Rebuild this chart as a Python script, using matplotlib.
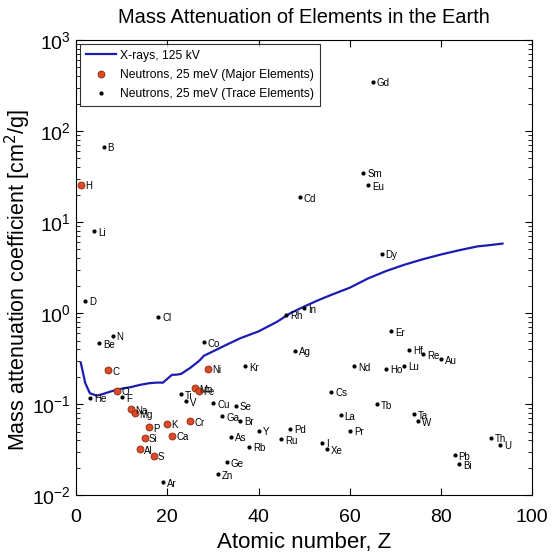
import matplotlib.pyplot as plt
import numpy as np

plt.rcParams['font.family'] = ['Liberation Sans', 'DejaVu Sans']

# X-ray attenuation at 125 kV along the element index
xray_z = [1, 2, 3, 4.5, 6, 8, 10, 12, 14, 16, 18, 19, 20, 21, 22, 23, 25, 27, 28,
          30, 33, 36, 40, 44, 47, 50, 53, 56, 60, 64, 68, 72, 76, 80, 84, 88, 91, 93.5]
xray_mu = [0.287, 0.17, 0.132, 0.124, 0.13, 0.14, 0.148, 0.154, 0.163, 0.17, 0.173,
           0.172, 0.19, 0.21, 0.211, 0.215, 0.25, 0.30, 0.34, 0.38, 0.45, 0.53, 0.63,
           0.8, 1.0, 1.18, 1.38, 1.59, 1.9, 2.4, 2.9, 3.4, 3.9, 4.4, 4.9, 5.4, 5.6, 5.8]

# Thermal neutrons, major elements
major_names = ['H', 'C', 'O', 'Na', 'Mg', 'Al', 'Si', 'P', 'S', 'K', 'Ca', 'Cr', 'Mn', 'Fe', 'Ni']
major_z = [1, 7, 9, 12, 13, 14, 15, 16, 17, 20, 21, 25, 26, 27, 29]
major_mu = [25.6, 0.238, 0.141, 0.088, 0.0796, 0.0323, 0.043, 0.0559, 0.0273,
            0.0608, 0.0453, 0.065, 0.15, 0.141, 0.246]

# Thermal neutrons, trace elements
trace_names = ['D', 'He', 'Li', 'Be', 'B', 'N', 'F', 'Cl', 'Ar', 'Ti', 'V', 'Co', 'Cu',
               'Zn', 'Ga', 'Ge', 'As', 'Se', 'Br', 'Kr', 'Rb', 'Y', 'Ru', 'Rh', 'Pd',
               'Ag', 'Cd', 'In', 'I', 'Xe', 'Cs', 'La', 'Pr', 'Nd', 'Sm', 'Eu', 'Gd',
               'Tb', 'Dy', 'Ho', 'Er', 'Lu', 'Hf', 'Ta', 'W', 'Re', 'Au', 'Pb', 'Bi',
               'Th', 'U']
trace_z = [2, 3, 4, 5, 6, 8, 10, 18, 19, 23, 24, 28, 30, 31, 32, 33, 34, 35, 36, 37,
           38, 40, 45, 46, 47, 48, 49, 50, 54, 55, 56, 58, 60, 61, 63, 64, 65, 66, 67,
           68, 69, 72, 73, 74, 75, 76, 80, 83, 84, 91, 93]
trace_mu = [1.37, 0.118, 7.9, 0.464, 67, 0.564, 0.12, 0.911, 0.0139, 0.128, 0.108,
            0.476, 0.102, 0.0171, 0.0744, 0.0232, 0.0441, 0.0959, 0.0662, 0.262,
            0.0343, 0.0514, 0.0412, 0.96, 0.0536, 0.386, 18.6, 1.13, 0.0379, 0.0323,
            0.137, 0.0757, 0.0514, 0.262, 34.8, 25.5, 348, 0.1, 4.49, 0.246, 0.634,
            0.266, 0.395, 0.0776, 0.065, 0.355, 0.312, 0.0277, 0.0219, 0.043, 0.036]

fig = plt.figure(figsize=(5.56, 5.54), dpi=100)
ax = fig.add_axes([0.137, 0.106, 0.82, 0.822])

ax.plot(xray_z, xray_mu, color='#1c1cb0', lw=1.6, label='X-rays, 125 kV')
ax.plot(major_z, major_mu, 'o', ms=5, mfc='#dc4a28', mec='#8a2a10', mew=0.6,
        label='Neutrons, 25 meV (Major Elements)')
ax.plot(trace_z, trace_mu, '.', ms=4, color='black',
        label='Neutrons, 25 meV (Trace Elements)')

# element names just right of each marker
for name, z, mu in zip(major_names + trace_names, major_z + trace_z, major_mu + trace_mu):
    ax.text(z + 0.9, mu * 0.96, name, fontsize=7, va='center', ha='left')

ax.set_yscale('log')
ax.set_xlim(0, 100)
ax.set_ylim(1e-2, 1e3)
ax.set_xticks([0, 20, 40, 60, 80, 100])
ax.tick_params(which='both', direction='in', top=True, right=True, labelsize=14)
ax.tick_params(which='major', length=5)
ax.tick_params(which='minor', length=3)
ax.tick_params(axis='x', pad=10)
ax.tick_params(axis='y', pad=4)

ax.set_xlabel('Atomic number, Z', fontsize=16)
ax.xaxis.set_label_coords(0.5, -0.081)
ax.set_ylabel('Mass attenuation coefficient [cm$^2$/g]', fontsize=15.5)
ax.yaxis.set_label_coords(-0.095, 0.473)
ax.set_title('Mass Attenuation of Elements in the Earth', fontsize=14.4, pad=12)

leg = ax.legend(loc='upper left', fontsize=8.7, frameon=True, fancybox=False,
                edgecolor='black', borderaxespad=0.3, handlelength=2.5,
                handletextpad=0.3, borderpad=0.5, labelspacing=0.6)
leg.get_frame().set_linewidth(0.8)

plt.savefig('out.png', dpi=100)
